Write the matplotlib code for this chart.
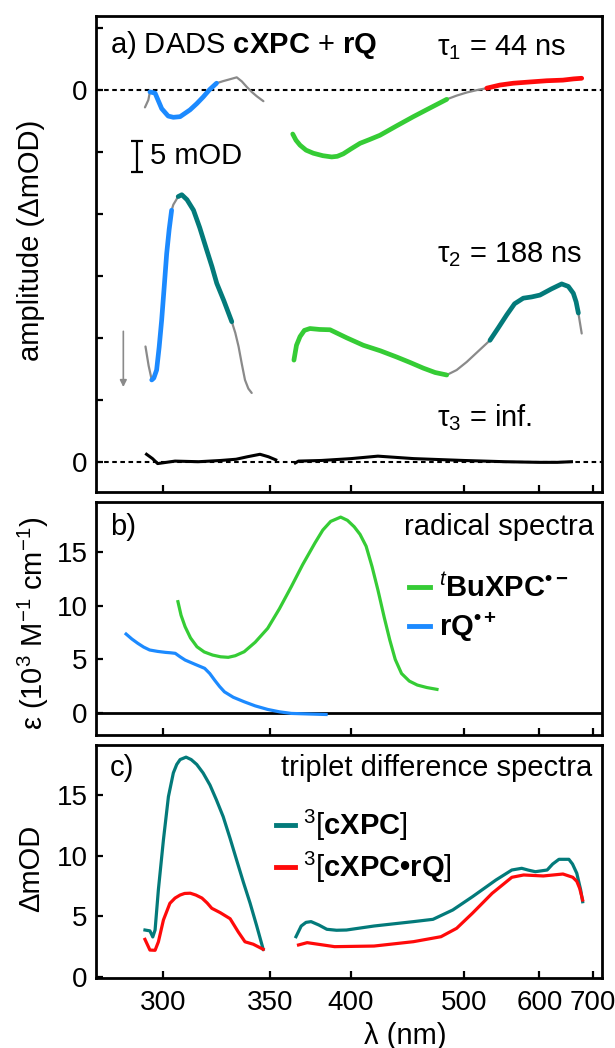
import numpy as np
import matplotlib
matplotlib.use("Agg")
import matplotlib.pyplot as plt
from matplotlib.ticker import FixedLocator, NullLocator, FixedFormatter

plt.rcParams['font.family'] = ['Liberation Sans', 'DejaVu Sans']
plt.rcParams['mathtext.fontset'] = 'custom'
plt.rcParams['mathtext.rm'] = 'Liberation Sans'
plt.rcParams['mathtext.it'] = 'Liberation Sans:italic'
plt.rcParams['mathtext.bf'] = 'Liberation Sans:bold'
plt.rcParams['mathtext.bfit'] = 'Liberation Sans:bold:italic'
plt.rcParams['mathtext.sf'] = 'Liberation Sans'
plt.rcParams['mathtext.default'] = 'regular'

# ---------------- data ----------------
# (a) decay-associated difference spectra, amplitudes in mOD
tau1_uv_wl = [293.1, 294.4, 295.0, 297.0, 299.6, 302.2, 304.3, 307.1, 311.3, 314.2, 317.1,
              320.0, 323.1, 326.3, 329.5, 332.7, 335.2, 337.7, 340.2, 342.8, 346.3]
tau1_uv_amp = [-2.8, -1.6, -0.3, -0.5, -3.0, -4.2, -4.4, -4.3, -3.2, -2.2, -1.1,
               0.1, 1.1, 1.45, 1.75, 2.05, 1.4, 0.5, -0.3, -1.0, -1.8]
tau1_vis_wl = [362.6, 364.5, 366.9, 370.5, 375.0, 381.0, 386.8, 390.5, 394.6, 400.0,
               406.5, 413.5, 421.6, 435.0, 449.6, 465.0, 481.6, 492.0, 503.0, 515.0,
               526.5, 543.0, 561.2, 585.0, 612.0, 640.0, 660.0, 676.1]
tau1_vis_amp = [-7.1, -8.1, -8.9, -9.7, -10.2, -10.6, -10.8, -10.7, -10.3, -9.5,
                -8.6, -8.0, -7.3, -5.8, -4.3, -2.9, -1.5, -0.9, -0.4, 0.0,
                0.3, 0.8, 1.1, 1.3, 1.5, 1.6, 1.8, 1.9]

tau2_uv_wl = [293.3, 294.5, 295.7, 296.5, 297.6, 298.6, 299.6, 300.6, 301.6, 302.6,
              303.6, 304.3, 306.3, 307.8, 310.0, 312.8, 315.5, 318.6, 321.0, 323.2,
              326.5, 330.3, 332.0, 333.6, 335.2, 336.8, 338.5, 340.2]
tau2_uv_amp = [8.6, 5.5, 3.2, 3.5, 4.8, 8.5, 12.9, 18.2, 23.6, 27.5,
               30.6, 31.5, 32.8, 33.1, 32.3, 30.6, 27.8, 24.2, 21.5, 18.8,
               16.0, 12.6, 10.8, 8.6, 5.8, 3.2, 1.8, 1.1]
tau2_vis_wl = [363.3, 364.8, 366.9, 369.5, 372.9, 379.0, 385.7, 397.0, 408.9, 422.0,
               435.2, 447.0, 458.8, 470.0, 481.6, 492.0, 503.0, 516.0, 530.5, 541.0,
               552.2, 563.0, 575.5, 588.0, 601.0, 620.0, 637.9, 650.0, 659.5, 665.0,
               669.4, 676.1]
tau2_vis_amp = [6.4, 8.8, 10.2, 11.2, 11.5, 11.35, 11.3, 10.0, 8.8, 7.9,
                6.9, 6.0, 5.1, 4.4, 4.0, 4.8, 6.1, 7.8, 9.6, 11.6,
                13.7, 15.5, 16.4, 16.6, 16.9, 17.9, 18.7, 18.3, 17.2, 15.8,
                14.0, 10.7]

tau3_uv_wl = [293.7, 296.0, 298.0, 305.0, 315.0, 325.0, 332.4, 338.0, 344.5, 349.0, 353.0]
tau3_uv_amp = [1.2, 0.5, -0.3, 0.1, 0.0, 0.2, 0.4, 0.8, 1.2, 0.8, 0.3]
tau3_vis_wl = [364.1, 366.0, 380.0, 400.0, 420.0, 450.0, 500.0, 550.0, 600.0, 630.0, 656.0]
tau3_vis_amp = [-0.2, 0.1, 0.2, 0.5, 0.9, 0.5, 0.2, 0.0, -0.1, -0.1, 0.0]

# (b) radical spectra, epsilon in 10^3 M^-1 cm^-1
xpc_anion_wl = [306.2, 307.5, 309.2, 311.5, 314.3, 317.5, 321.3, 325.0, 328.6, 332.0,
                336.4, 342.0, 348.6, 355.0, 361.8, 368.5, 376.0, 381.0, 386.1, 392.8,
                397.5, 402.3, 406.5, 411.0, 415.5, 420.1, 425.0, 429.5, 434.0, 439.3,
                446.0, 453.2, 462.0, 471.8]
xpc_anion_eps = [10.36, 9.1, 8.04, 7.0, 6.18, 5.7, 5.41, 5.25, 5.2, 5.35,
                 5.72, 6.6, 7.89, 9.7, 11.76, 13.8, 15.8, 17.0, 17.8, 18.2,
                 17.9, 17.3, 16.6, 15.5, 13.6, 11.4, 8.9, 6.8, 5.0, 3.7,
                 3.0, 2.63, 2.4, 2.23]
rq_cation_wl = [286.1, 288.2, 290.4, 292.6, 294.9, 298.0, 301.1, 303.2, 305.1, 307.1,
                309.2, 313.5, 317.7, 320.0, 322.2, 324.5, 326.8, 331.0, 336.4, 342.0,
                348.6, 355.0, 361.8, 372.0, 383.1]
rq_cation_eps = [7.36, 6.9, 6.5, 6.15, 5.88, 5.75, 5.66, 5.62, 5.57, 5.25,
                 4.95, 4.55, 4.18, 3.7, 3.09, 2.5, 2.0, 1.5, 1.08, 0.7,
                 0.37, 0.15, 0.0, -0.05, -0.1]

# (c) triplet difference spectra, mOD
trip_cxpc_uv_wl = [293.1, 295.0, 296.1, 297.0, 298.3, 300.3, 302.3, 304.3, 305.7, 307.1,
                   309.6, 311.8, 314.2, 317.0, 320.1, 323.0, 326.2, 329.5, 332.7, 336.0,
                   339.4, 342.8, 346.2]
trip_cxpc_uv = [3.87, 3.8, 3.3, 3.87, 7.2, 11.3, 14.85, 16.8, 17.5, 17.9,
                18.1, 17.9, 17.5, 16.8, 15.8, 14.6, 13.2, 11.4, 9.6, 7.8,
                6.07, 4.2, 2.28]
trip_cxpc_vis_wl = [364.5, 367.6, 370.5, 373.6, 378.5, 383.6, 390.0, 396.8, 417.0, 449.7,
                    467.9, 487.9, 509.5, 538.1, 559.2, 573.2, 583.0, 593.8, 612.8, 622.0,
                    633.0, 651.1, 658.0, 666.3, 674.0, 678.0]
trip_cxpc_vis = [3.32, 4.2, 4.5, 4.56, 4.28, 3.93, 3.85, 3.87, 4.2, 4.56,
                 4.75, 5.52, 6.61, 7.99, 8.81, 8.95, 8.8, 8.67, 8.81, 9.3,
                 9.69, 9.69, 9.3, 8.54, 7.17, 6.2]
trip_pair_uv_wl = [293.1, 295.0, 297.0, 298.3, 300.3, 302.9, 305.0, 307.1, 309.0, 311.4,
                   313.8, 316.5, 318.8, 320.9, 324.8, 329.5, 333.5, 336.8, 341.0, 346.2]
trip_pair_uv = [3.1, 2.22, 2.2, 2.9, 4.7, 6.07, 6.5, 6.75, 6.88, 6.9,
                6.75, 6.5, 6.1, 5.66, 5.3, 4.8, 3.7, 2.9, 2.7, 2.28]
trip_pair_vis_wl = [366.0, 371.2, 388.7, 417.0, 449.7, 475.8, 492.0, 509.5, 533.2, 559.2,
                    576.0, 606.4, 640.2, 658.5, 666.3, 672.0, 678.0]
trip_pair_vis = [2.64, 2.83, 2.5, 2.55, 2.91, 3.32, 4.01, 5.25, 6.89, 8.21,
                 8.4, 8.32, 8.48, 8.21, 7.88, 7.3, 6.34]

x_ticks = [300, 350, 400, 500, 600, 700]

# ---------------- styling ----------------
GREEN = '#35cc35'
BLUE = '#1c8aff'
TEAL = '#037a7a'
RED = '#ff0a0a'
GRAY = '#8a8a8a'
THICK = 3.4
THIN = 1.6
FS_TEXT = 21
FS_TICK = 20

# vertical stacking of the DADS in panel (a)
OFFSET_TAU1 = 60.0
OFFSET_TAU2 = 10.0
OFFSET_TAU3 = 0.0

W, H = 615, 1048
fig = plt.figure(figsize=(W / 100, H / 100), dpi=100)


def add_px_axes(left, top, right, bottom):
    return fig.add_axes([left / W, 1 - bottom / H, (right - left) / W, (bottom - top) / H])


ax_a = add_px_axes(96, 15.7, 602, 491.7)
ax_b = add_px_axes(96, 502, 602, 735)
ax_c = add_px_axes(96, 745, 602, 978)


def fwd(x):
    x = np.asarray(x, dtype=float)
    with np.errstate(divide='ignore', invalid='ignore'):
        return -1.0 / x


def inv(y):
    y = np.asarray(y, dtype=float)
    with np.errstate(divide='ignore', invalid='ignore'):
        return -1.0 / y


for ax in (ax_a, ax_b, ax_c):
    ax.set_xscale('function', functions=(fwd, inv))
    ax.set_xlim(275.6, 719.8)
    ax.xaxis.set_major_locator(FixedLocator(x_ticks))
    ax.xaxis.set_minor_locator(NullLocator())
    ax.yaxis.set_minor_locator(NullLocator())
    for s in ax.spines.values():
        s.set_linewidth(2.0)
    ax.tick_params(direction='in', length=5, width=1.6, labelsize=FS_TICK, pad=6)
    ax.tick_params(axis='x', pad=9)


def segmented(ax, wl, amp, offset, pieces):
    """Draw a spectrum as consecutive pieces; pieces = [(wl_start, wl_end, color, lw)]."""
    wl = np.asarray(wl, float)
    y = np.asarray(amp, float) + offset
    for a, b, color, lw in pieces:
        m = (wl >= a - 1e-6) & (wl <= b + 1e-6)
        ax.plot(wl[m], y[m], color=color, lw=lw, solid_capstyle='round',
                solid_joinstyle='round', zorder=3 if lw > 2 else 2)


# ---------------- panel (a) ----------------
dash = (0, (2.2, 1.7))
ax_a.axhline(OFFSET_TAU1, color='k', lw=1.5, ls=dash, zorder=1)
ax_a.axhline(OFFSET_TAU3, color='k', lw=1.5, ls=dash, zorder=1)

segmented(ax_a, tau1_uv_wl, tau1_uv_amp, OFFSET_TAU1,
          [(293.1, 295.0, GRAY, THIN), (295.0, 323.1, BLUE, THICK), (323.1, 346.3, GRAY, THIN)])
segmented(ax_a, tau1_vis_wl, tau1_vis_amp, OFFSET_TAU1,
          [(362.6, 481.6, GREEN, THICK), (481.6, 526.5, GRAY, THIN), (526.5, 676.1, RED, THICK)])
segmented(ax_a, tau2_uv_wl, tau2_uv_amp, OFFSET_TAU2,
          [(293.3, 295.7, GRAY, THIN), (295.7, 303.6, BLUE, THICK), (303.6, 306.3, GRAY, THIN),
           (306.3, 330.3, TEAL, THICK), (330.3, 340.2, GRAY, THIN)])
segmented(ax_a, tau2_vis_wl, tau2_vis_amp, OFFSET_TAU2,
          [(363.3, 481.6, GREEN, THICK), (481.6, 530.5, GRAY, THIN),
           (530.5, 669.4, TEAL, THICK), (669.4, 676.1, GRAY, THIN)])
ax_a.plot(tau3_uv_wl, np.asarray(tau3_uv_amp) + OFFSET_TAU3, color='k', lw=2.2, zorder=3)
ax_a.plot(tau3_vis_wl, np.asarray(tau3_vis_amp) + OFFSET_TAU3, color='k', lw=2.2, zorder=3)

ax_a.set_ylim(-4.84, 72.0)
ax_a.yaxis.set_major_locator(FixedLocator([0, 10, 20, 30, 40, 50, 60, 70]))
ax_a.yaxis.set_major_formatter(FixedFormatter(['0', '', '', '', '', '', '0', '']))
ax_a.tick_params(axis='x', labelbottom=False)

# 5 mOD scale bar and direction arrow
ax_a.errorbar([290.0], [49.3], yerr=[2.5], color='k', lw=1.6, capsize=4, capthick=1.6)
ax_a.text(0.107, 0.705, '5 mOD', transform=ax_a.transAxes, fontsize=FS_TEXT,
          va='center', ha='left')
ax_a.annotate('', xy=(285.1, 11.6), xytext=(285.1, 21.5),
              arrowprops=dict(arrowstyle='-|>', color=GRAY, lw=1.2, mutation_scale=10))

ax_a.text(0.028, 0.921, r'a) DADS $\mathbf{cXPC}$ + $\mathbf{rQ}$', transform=ax_a.transAxes,
          fontsize=FS_TEXT, va='baseline', ha='left')
ax_a.text(0.674, 0.917, 'τ$_1$ = 44 ns', transform=ax_a.transAxes, fontsize=FS_TEXT,
          va='baseline')
ax_a.text(0.674, 0.483, 'τ$_2$ = 188 ns', transform=ax_a.transAxes, fontsize=FS_TEXT,
          va='baseline')
ax_a.text(0.674, 0.137, 'τ$_3$ = inf.', transform=ax_a.transAxes, fontsize=FS_TEXT,
          va='baseline')

# ---------------- panel (b) ----------------
ax_b.axhline(0, color='k', lw=2.0, zorder=1)
ax_b.plot(xpc_anion_wl, xpc_anion_eps, color=GREEN, lw=2.3,
          label=r'$\mathbf{^{\mathit{t}}BuXPC^{•-}}$')
ax_b.plot(rq_cation_wl, rq_cation_eps, color=BLUE, lw=2.3,
          label=r'$\mathbf{rQ^{•+}}$')
ax_b.set_ylim(-2.0, 19.6)
ax_b.yaxis.set_major_locator(FixedLocator([0, 5, 10, 15]))
ax_b.tick_params(axis='x', labelbottom=False)
ax_b.text(0.028, 0.858, 'b)', transform=ax_b.transAxes, fontsize=FS_TEXT, va='baseline')
ax_b.text(0.984, 0.858, 'radical spectra', transform=ax_b.transAxes, fontsize=FS_TEXT,
          va='baseline', ha='right')
leg_b = ax_b.legend(loc='center left', bbox_to_anchor=(0.619, 0.54), frameon=False,
                    fontsize=FS_TEXT, handlelength=0.72, handletextpad=0.3, borderpad=0,
                    borderaxespad=0, labelspacing=0.25)
for h in leg_b.legend_handles:
    h.set_linewidth(3.5)

# ---------------- panel (c) ----------------
ax_c.plot(trip_cxpc_uv_wl, trip_cxpc_uv, color=TEAL, lw=2.3, label=r'$^3$[$\mathbf{cXPC}$]')
ax_c.plot(trip_cxpc_vis_wl, trip_cxpc_vis, color=TEAL, lw=2.3)
ax_c.plot(trip_pair_uv_wl, trip_pair_uv, color=RED, lw=2.3,
          label=r'$^3$[$\mathbf{cXPC•rQ}$]')
ax_c.plot(trip_pair_vis_wl, trip_pair_vis, color=RED, lw=2.3)
ax_c.set_ylim(-0.08, 19.1)
ax_c.yaxis.set_major_locator(FixedLocator([0, 5, 10, 15]))
ax_c.text(0.028, 0.866, 'c)', transform=ax_c.transAxes, fontsize=FS_TEXT, va='baseline')
ax_c.text(0.981, 0.866, 'triplet difference spectra', transform=ax_c.transAxes,
          fontsize=FS_TEXT, va='baseline', ha='right')
leg_c = ax_c.legend(loc='center left', bbox_to_anchor=(0.355, 0.565), frameon=False,
                    fontsize=FS_TEXT, handlelength=0.68, handletextpad=0.25, borderpad=0,
                    borderaxespad=0, labelspacing=0.25)
for h in leg_c.legend_handles:
    h.set_linewidth(3.5)
ax_c.set_xticklabels([str(t) for t in x_ticks])

# axis titles
fig.text(31 / W, 1 - 240 / H, 'amplitude (ΔmOD)', rotation=90, fontsize=FS_TEXT,
         ha='center', va='center')
fig.text(33 / W, 1 - 623 / H, 'ε (10$^3$ M$^{-1}$ cm$^{-1}$)', rotation=90, fontsize=FS_TEXT,
         ha='center', va='center')
fig.text(31 / W, 1 - 868 / H, 'ΔmOD', rotation=90, fontsize=FS_TEXT, ha='center',
         va='center')
fig.text(405 / W, 1 - 1036 / H, 'λ (nm)', fontsize=FS_TEXT, ha='center', va='center')

fig.savefig('out.png', dpi=100)
